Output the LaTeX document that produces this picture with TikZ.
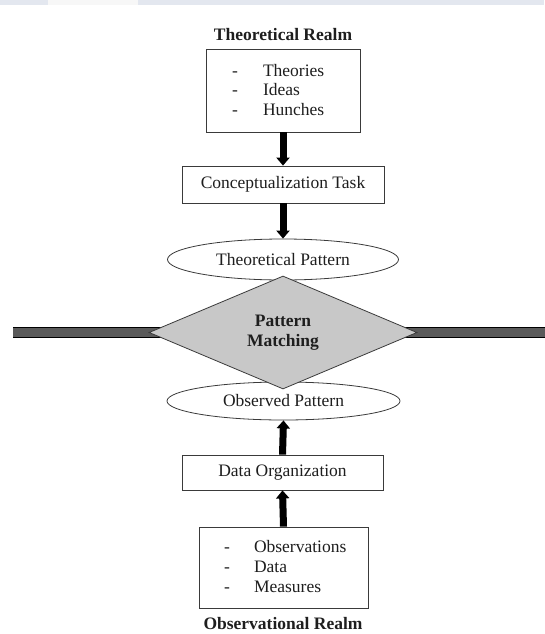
\documentclass[tikz,border=0pt]{standalone}
\usepackage{fontspec}
\setmainfont{Liberation Serif}
\usetikzlibrary{arrows.meta,shapes.geometric,backgrounds}
\definecolor{bandcol}{HTML}{E3E7EF}
\definecolor{bardark}{HTML}{5A5A5A}
\definecolor{diamgray}{HTML}{C8C8C8}
\definecolor{edgecol}{HTML}{3A3A3A}
\definecolor{txtcol}{HTML}{1E1E1E}
\begin{document}
\begin{tikzpicture}[x=1pt,y=-1pt,
  every node/.style={text=txtcol},
  base/.style={font=\fontsize{17.5}{20}\selectfont},
  title/.style={font=\fontsize{17.5}{20}\selectfont\bfseries},
  box/.style={base, draw=edgecol, line width=0.8pt, fill=white, inner sep=0pt},
  oval/.style={base, ellipse, draw=edgecol, line width=0.8pt, fill=white, inner sep=0pt},
  listtext/.style={base, anchor=west, inner sep=0pt},
  flow/.style={line width=7pt, black, -{Triangle[width=13pt,length=8pt]}},
  barline/.style={draw=black, line width=0.8pt, double=bardark, double distance=9.5pt}
]
\useasboundingbox (0,0) rectangle (544,634);
% top band
\fill[bandcol] (0,0) rectangle (544,5);
\fill[white!97!black] (48,0) rectangle (138,5);

% theoretical realm
\node[title] (theotitle) at (283,35) {Theoretical Realm};
\node[box, minimum width=154pt, minimum height=83pt] (theobox) at (283,90.5) {};
\node[listtext] (theolist) at (232,92)
  {\begin{tabular}{@{}l@{\hspace{25pt}}l@{}}-&Theories\\-&Ideas\\-&Hunches\end{tabular}};
\node[box, minimum width=202pt, minimum height=37pt] (concept) at (283,184.5) {Conceptualization Task};
\node[oval, minimum width=231pt, minimum height=41pt] (theopat) at (283,259.5) {Theoretical Pattern};

% observational realm
\node[oval, minimum width=233pt, minimum height=38pt] (obspat) at (283.5,401) {Observed Pattern};
\node[box, minimum width=201pt, minimum height=35pt] (dataorg) at (282.5,472.5) {Data Organization};
\node[box, minimum width=169pt, minimum height=81pt] (obsbox) at (283.5,567.5) {};
\node[listtext] (obslist) at (224,568)
  {\begin{tabular}{@{}l@{\hspace{24pt}}l@{}}-&Observations\\-&Data\\-&Measures\end{tabular}};
\node[title] (obstitle) at (283,623.5) {Observational Realm};

% pattern matching
\node[diamond, aspect=2.37, draw=edgecol, line width=0.8pt, fill=diamgray,
      minimum width=268pt, minimum height=113pt, inner sep=0pt,
      title, align=center] (match) at (283,332.5) {Pattern\\Matching};
\coordinate (leftend) at (13,332.5);
\coordinate (rightend) at (546,332.5);
\begin{pgfonlayer}{background}
\draw[barline] (leftend) -- (match.center);
\draw[barline] (match.center) -- (rightend);
\end{pgfonlayer}

% arrows
\draw[flow] (theobox.south) -- (concept.north);
\draw[flow] (concept.south) -- (theopat.north);
\draw[flow] (dataorg.north) -- (obspat.south);
\draw[flow] (obsbox.north) -- (dataorg.south);
\end{tikzpicture}
\end{document}
